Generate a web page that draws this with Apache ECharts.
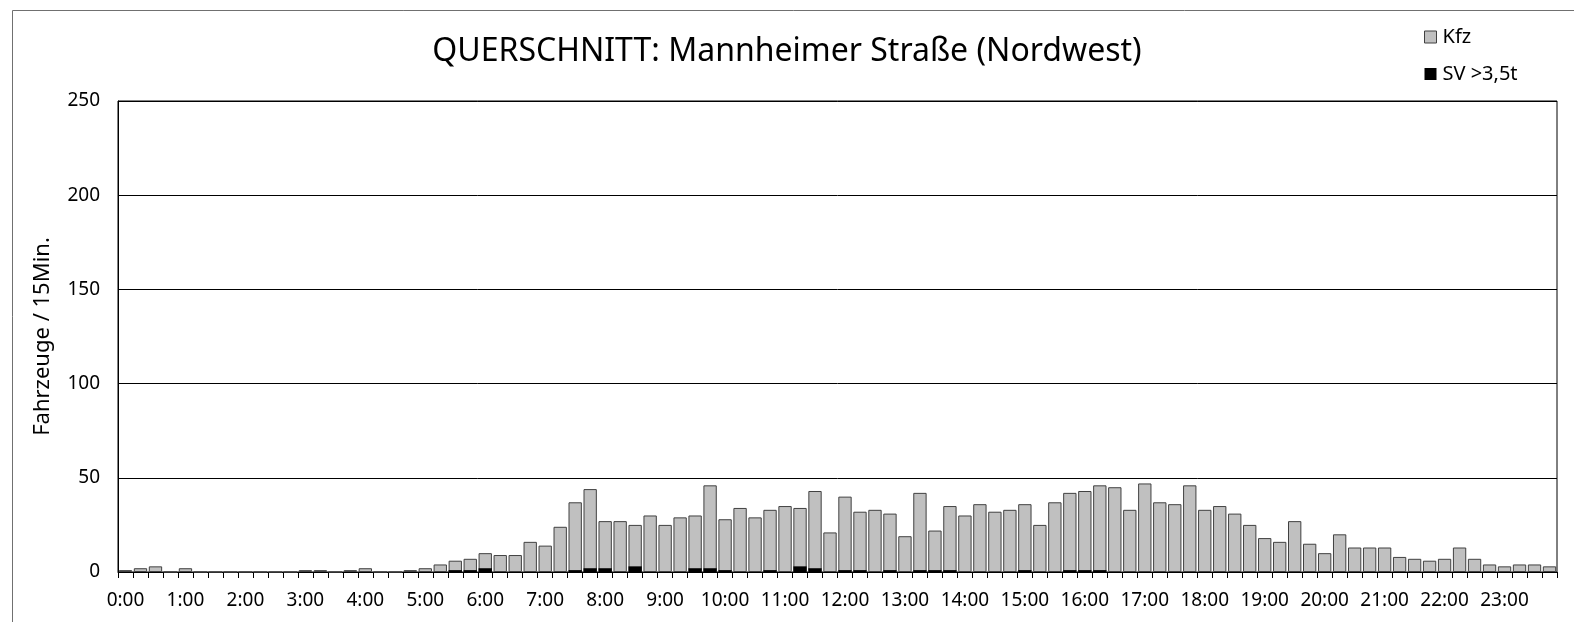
<!DOCTYPE html>
<html>
<head>
<meta charset="utf-8">
<title>Querschnitt Mannheimer Straße (Nordwest)</title>
<script src="https://cdn.jsdelivr.net/npm/echarts@6/dist/echarts.min.js"></script>
<style>
  html, body { margin: 0; padding: 0; background: #ffffff; }
  #chart { width: 1574px; height: 622px; }
</style>
</head>
<body>
<div id="chart"></div>
<script>
// 15-minute intervals over one day
const timeSlots = [
  '0:00','0:15','0:30','0:45','1:00','1:15','1:30','1:45',
  '2:00','2:15','2:30','2:45','3:00','3:15','3:30','3:45',
  '4:00','4:15','4:30','4:45','5:00','5:15','5:30','5:45',
  '6:00','6:15','6:30','6:45','7:00','7:15','7:30','7:45',
  '8:00','8:15','8:30','8:45','9:00','9:15','9:30','9:45',
  '10:00','10:15','10:30','10:45','11:00','11:15','11:30','11:45',
  '12:00','12:15','12:30','12:45','13:00','13:15','13:30','13:45',
  '14:00','14:15','14:30','14:45','15:00','15:15','15:30','15:45',
  '16:00','16:15','16:30','16:45','17:00','17:15','17:30','17:45',
  '18:00','18:15','18:30','18:45','19:00','19:15','19:30','19:45',
  '20:00','20:15','20:30','20:45','21:00','21:15','21:30','21:45',
  '22:00','22:15','22:30','22:45','23:00','23:15','23:30','23:45'
];

// All motor vehicles per 15 minutes
const kfz = [
  1, 2, 3, 0, 2, 0, 0, 0,
  0, 0, 0, 0, 1, 1, 0, 1,
  2, 0, 0, 1, 2, 4, 6, 7,
  10, 9, 9, 16, 14, 24, 37, 44,
  27, 27, 25, 30, 25, 29, 30, 46,
  28, 34, 29, 33, 35, 34, 43, 21,
  40, 32, 33, 31, 19, 42, 22, 35,
  30, 36, 32, 33, 36, 25, 37, 42,
  43, 46, 45, 33, 47, 37, 36, 46,
  33, 35, 31, 25, 18, 16, 27, 15,
  10, 20, 13, 13, 13, 8, 7, 6,
  7, 13, 7, 4, 3, 4, 4, 3
];

// Heavy vehicles (> 3.5 t) per 15 minutes
const sv = [
  0, 0, 0, 0, 0, 0, 0, 0,
  0, 0, 0, 0, 0, 0, 0, 0,
  0, 0, 0, 0, 0, 0, 1, 1,
  2, 0, 0, 0, 0, 0, 1, 2,
  2, 0, 3, 0, 0, 0, 2, 2,
  1, 0, 0, 1, 0, 3, 2, 0,
  1, 1, 0, 1, 0, 1, 1, 1,
  0, 0, 0, 0, 1, 0, 0, 1,
  1, 1, 0, 0, 0, 0, 0, 0,
  0, 0, 0, 0, 0, 0, 0, 0,
  0, 0, 0, 0, 0, 0, 0, 0,
  0, 0, 0, 0, 0, 0, 0, 0
];

const yTicks = { min: 0, max: 250, interval: 50 };

const FONT = '"Noto Sans", "DejaVu Sans", sans-serif';

const chart = echarts.init(document.getElementById('chart'), null, { renderer: 'canvas' });

chart.setOption({
  animation: false,
  backgroundColor: '#ffffff',
  textStyle: { fontFamily: FONT, color: '#000' },
  title: {
    text: 'QUERSCHNITT: Mannheimer Straße (Nordwest)',
    left: 'center',
    top: 31,
    textStyle: { fontFamily: FONT, fontSize: 32, fontWeight: 'normal', color: '#000' }
  },
  legend: {
    orient: 'vertical',
    left: 1419,
    top: 22,
    itemWidth: 12,
    itemHeight: 12,
    itemGap: 17,
    icon: 'rect',
    textStyle: { fontFamily: FONT, fontSize: 20, color: '#000', padding: [0, 0, 0, 1] },
    data: [
      { name: 'Kfz', itemStyle: { color: '#c0c0c0', borderColor: '#404040', borderWidth: 1 } },
      { name: 'SV >3,5t', itemStyle: { color: '#000000', borderColor: '#000000', borderWidth: 0 } }
    ]
  },
  graphic: [
    {
      type: 'rect',
      silent: true,
      shape: { x: 12.5, y: 10.5, width: 1700, height: 800 },
      style: { fill: 'none', stroke: '#707070', lineWidth: 1 }
    }
  ],
  grid: {
    left: 118,
    right: 17,
    top: 101,
    bottom: 50,
    show: true,
    borderColor: '#000',
    borderWidth: 1,
    backgroundColor: 'transparent'
  },
  xAxis: {
    type: 'category',
    data: timeSlots,
    boundaryGap: true,
    axisLine: { lineStyle: { color: '#000', width: 1 } },
    axisTick: { show: true, interval: 0, length: 6, lineStyle: { color: '#000' } },
    axisLabel: {
      interval: 3,
      fontFamily: FONT,
      fontSize: 19,
      color: '#000',
      margin: 19
    },
    splitLine: { show: false }
  },
  yAxis: {
    type: 'value',
    min: yTicks.min,
    max: yTicks.max,
    interval: yTicks.interval,
    name: 'Fahrzeuge / 15Min.',
    nameLocation: 'middle',
    nameGap: 64,
    nameRotate: 90,
    nameTextStyle: { fontFamily: FONT, fontSize: 22, color: '#000' },
    axisLine: { show: true, lineStyle: { color: '#000', width: 1 } },
    axisTick: { show: false },
    axisLabel: { fontFamily: FONT, fontSize: 19, color: '#000', margin: 18 },
    splitLine: { show: true, lineStyle: { color: '#000', width: 1 } }
  },
  series: [
    {
      name: 'Kfz',
      type: 'bar',
      data: kfz,
      barCategoryGap: '11%',
      itemStyle: { color: '#c0c0c0', borderColor: '#404040', borderWidth: 1 }
    },
    {
      name: 'SV >3,5t',
      type: 'bar',
      data: sv,
      barGap: '-100%',
      barCategoryGap: '11%',
      itemStyle: { color: '#000000' }
    }
  ]
});
</script>
</body>
</html>
